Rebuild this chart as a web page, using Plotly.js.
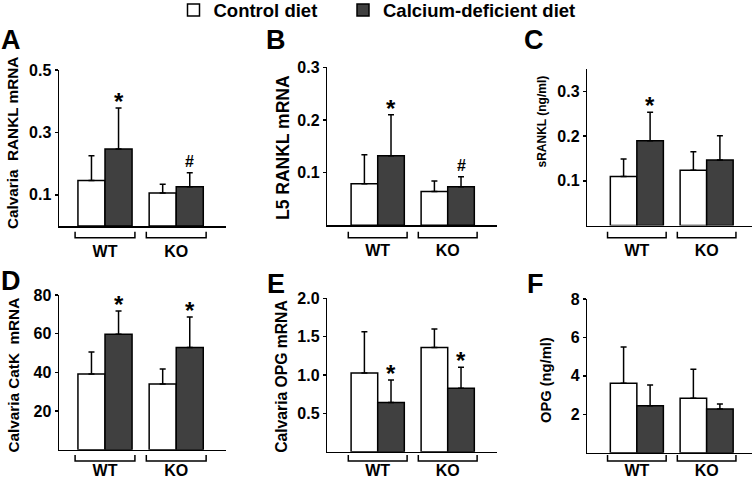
<!DOCTYPE html>
<html><head><meta charset="utf-8">
<script src="https://cdn.plot.ly/plotly-3.0.1.min.js"></script>
<style>html,body{margin:0;padding:0;background:#fff}#chart{width:754px;height:479px}</style>
</head><body><div id="chart"></div>
<script>
// ---------------- data ----------------
const groups = ['WT', 'KO'];
const groupPos = [0, 1];
const seriesNames = ['Control diet', 'Calcium-deficient diet'];

// A: Calvaria RANKL mRNA
const A_ctrl = [0.146, 0.106], A_ctrl_sd = [0.079, 0.028];
const A_cd   = [0.247, 0.126], A_cd_sd   = [0.131, 0.045];
const A_marks = ['*', '#'];
const A_ticks = [0.1, 0.3, 0.5];
// B: L5 RANKL mRNA
const B_ctrl = [0.079, 0.064], B_ctrl_sd = [0.055, 0.020];
const B_cd   = [0.132, 0.073], B_cd_sd   = [0.078, 0.019];
const B_marks = ['*', '#'];
const B_ticks = [0.1, 0.2, 0.3];
// C: sRANKL (ng/ml)
const C_ctrl = [0.110, 0.124], C_ctrl_sd = [0.039, 0.041];
const C_cd   = [0.190, 0.147], C_cd_sd   = [0.064, 0.054];
const C_marks = ['*', ''];
const C_ticks = [0.1, 0.2, 0.3];
// D: Calvaria CatK mRNA
const D_ctrl = [39.2, 34.0], D_ctrl_sd = [11.3, 7.7];
const D_cd   = [59.7, 52.9], D_cd_sd   = [12.0, 15.7];
const D_marks = ['*', '*'];
const D_ticks = [20, 40, 60, 80];
// E: Calvaria OPG mRNA
const E_ctrl = [1.026, 1.357], E_ctrl_sd = [0.539, 0.243];
const E_cd   = [0.643, 0.826], E_cd_sd   = [0.292, 0.274];
const E_marks = ['*', '*'];
const E_ticks = [0.5, 1.0, 1.5, 2.0];
// F: OPG (ng/ml)
const F_ctrl = [3.62, 2.83], F_ctrl_sd = [1.88, 1.52];
const F_cd   = [2.45, 2.28], F_cd_sd   = [1.08, 0.26];
const F_marks = ['', ''];
const F_ticks = [2, 4, 6, 8];

// ---------------- layout helpers ----------------
const W = 754, H = 479;
const px = x => x / W;
const py = y => 1 - y / H;
const FONT = 'Liberation Sans, Arial, Helvetica, sans-serif';
const BARGAP = 0.24;
const DARK = '#404040';

const panels = [
  {letter:'A', title:'Calvaria  RANKL mRNA', ctrl:A_ctrl, ctrlSd:A_ctrl_sd, cd:A_cd, cdSd:A_cd_sd, marks:A_marks, ticks:A_ticks, range:[0,0.5], fmt:'.1f',
   box:{l:59,r:226,t:70,b:226}, xr:[-0.646,1.699], titleAt:[12.5,143.5], titleSize:15.3, letterAt:[10.5,39.5], standoff:10, bracketY:237.7},
  {letter:'B', title:'L5 RANKL mRNA', ctrl:B_ctrl, ctrlSd:B_ctrl_sd, cd:B_cd, cdSd:B_cd_sd, marks:B_marks, ticks:B_ticks, range:[0,0.3], fmt:'.1f',
   box:{l:327.3,r:497,t:67.3,b:225.3}, xr:[-0.72,1.704], titleAt:[282.5,147.5], titleSize:17.5, letterAt:[276,39.5], standoff:10, bracketY:237.7},
  {letter:'C', title:'sRANKL (ng/ml)', ctrl:C_ctrl, ctrlSd:C_ctrl_sd, cd:C_cd, cdSd:C_cd_sd, marks:C_marks, ticks:C_ticks, range:[0,0.35], fmt:'.1f',
   box:{l:587.3,r:752,t:69.3,b:225.5}, xr:[-0.71,1.65], titleAt:[542,121.5], titleSize:12, letterAt:[534,39.5], standoff:10, bracketY:237.7},
  {letter:'D', title:'Calvaria CatK  mRNA', ctrl:D_ctrl, ctrlSd:D_ctrl_sd, cd:D_cd, cdSd:D_cd_sd, marks:D_marks, ticks:D_ticks, range:[0,80], fmt:'',
   box:{l:59,r:226,t:295,b:449.7}, xr:[-0.646,1.699], titleAt:[13,375.5], titleSize:15.3, letterAt:[10.5,281], standoff:6, bracketY:461},
  {letter:'E', title:'Calvaria OPG mRNA', ctrl:E_ctrl, ctrlSd:E_ctrl_sd, cd:E_cd, cdSd:E_cd_sd, marks:E_marks, ticks:E_ticks, range:[0,2], fmt:'.1f',
   box:{l:327.3,r:497,t:298.3,b:451.7}, xr:[-0.72,1.704], titleAt:[281.3,376.5], titleSize:15.7, letterAt:[276,284], standoff:4, bracketY:461},
  {letter:'F', title:'OPG (ng/ml)', ctrl:F_ctrl, ctrlSd:F_ctrl_sd, cd:F_cd, cdSd:F_cd_sd, marks:F_marks, ticks:F_ticks, range:[0,8], fmt:'',
   box:{l:587.3,r:752,t:299,b:452.7}, xr:[-0.71,1.65], titleAt:[546,380], titleSize:14.7, letterAt:[535,284], standoff:3, bracketY:461}
];

const legendFont = {family:FONT, size:18.5, weight:700, color:'#000'};
const data = [];
const annotations = [];
const shapes = [];
const layout = {
  width: W, height: H,
  margin: {l:0, r:0, t:0, b:0, autoexpand:false},
  paper_bgcolor: '#ffffff', plot_bgcolor: 'rgba(0,0,0,0)',
  barmode: 'group', bargap: BARGAP, bargroupgap: 0,
  showlegend: true,
  legend:  {orientation:'h', x: px(173.5), xanchor:'left', y: py(10.5), yanchor:'middle',
            font: legendFont, bgcolor:'rgba(0,0,0,0)', itemclick:false, itemdoubleclick:false},
  legend2: {orientation:'h', x: px(343), xanchor:'left', y: py(10.5), yanchor:'middle',
            font: legendFont, bgcolor:'rgba(0,0,0,0)', itemclick:false, itemdoubleclick:false},
  font: {family: FONT, color:'#000'}
};

const barOffset = (1 - BARGAP) / 4;

panels.forEach((p, i) => {
  const n = i === 0 ? '' : String(i + 1);
  const xa = 'x' + n, ya = 'y' + n;
  const errStyle = {type:'data', symmetric:false, color:'#000', thickness:1.5, width:3};
  data.push({
    type:'bar', x: groupPos, y: p.ctrl, name: seriesNames[0], xaxis: xa, yaxis: ya,
    marker:{color:'#ffffff', line:{color:'#000', width:1.5}},
    error_y: Object.assign({array: p.ctrlSd, arrayminus: p.ctrlSd.map(() => 0)}, errStyle),
    showlegend: i === 0, legend:'legend', hoverinfo:'skip'
  });
  data.push({
    type:'bar', x: groupPos, y: p.cd, name: seriesNames[1], xaxis: xa, yaxis: ya,
    marker:{color: DARK, line:{color:'#000', width:1.5}},
    error_y: Object.assign({array: p.cdSd, arrayminus: p.cdSd.map(() => 0)}, errStyle),
    showlegend: i === 0, legend:'legend2', hoverinfo:'skip'
  });

  const tickfont = {family: FONT, size:16, weight:700, color:'#000'};
  layout['xaxis' + n] = {
    domain: [px(p.box.l), px(p.box.r)], range: p.xr, anchor: ya,
    tickmode:'array', tickvals: groupPos, ticktext: groups, ticks:'',
    showline:true, linecolor:'#000', linewidth:1.5, showgrid:false, zeroline:false,
    tickfont: tickfont, ticklabelstandoff: p.standoff, fixedrange:true, automargin:false
  };
  layout['yaxis' + n] = {
    domain: [py(p.box.b), py(p.box.t)], range: p.range, anchor: xa,
    tickmode:'array', tickvals: p.ticks, tickformat: p.fmt,
    ticks:'outside', ticklen:3, tickwidth:1.5, tickcolor:'#000',
    showline:true, linecolor:'#000', linewidth:1.5, showgrid:false, zeroline:false,
    tickfont: tickfont, fixedrange:true, automargin:false
  };

  // y-axis title
  annotations.push({
    text: '<b>' + p.title + '</b>', textangle: -90, showarrow:false,
    xref:'paper', yref:'paper', x: px(p.titleAt[0]), y: py(p.titleAt[1]),
    xanchor:'center', yanchor:'middle',
    font:{family: FONT, size: p.titleSize, color:'#000'}
  });
  // panel letter
  annotations.push({
    text: '<b>' + p.letter + '</b>', showarrow:false,
    xref:'paper', yref:'paper', x: px(p.letterAt[0]), y: py(p.letterAt[1]),
    xanchor:'center', yanchor:'middle',
    font:{family: FONT, size: 27, color:'#000'}
  });
  // significance marks above the calcium-deficient bars
  p.marks.forEach((m, g) => {
    if (!m) return;
    const star = m === '*';
    annotations.push({
      text: '<b>' + m + '</b>', showarrow:false,
      xref: xa, yref: ya, x: groupPos[g] + barOffset, y: p.cd[g] + p.cdSd[g],
      xanchor:'center', yanchor:'bottom', yshift: star ? -9 : 1,
      font:{family: FONT, size: star ? 24 : 16, color:'#000'}
    });
  });
  // group brackets below the x axis
  groupPos.forEach(g => {
    const x0 = g - 0.42, x1 = g + 0.42;
    const yb = py(p.bracketY), yt = py(p.bracketY - 6);
    shapes.push({
      type:'path', xref: xa, yref:'paper',
      path: `M${x0},${yt} L${x0},${yb} L${x1},${yb} L${x1},${yt}`,
      line:{color:'#000', width:1.5}
    });
  });
});

layout.annotations = annotations;
layout.shapes = shapes;

Plotly.newPlot('chart', data, layout, {staticPlot:true, displayModeBar:false});
</script>
</body></html>
